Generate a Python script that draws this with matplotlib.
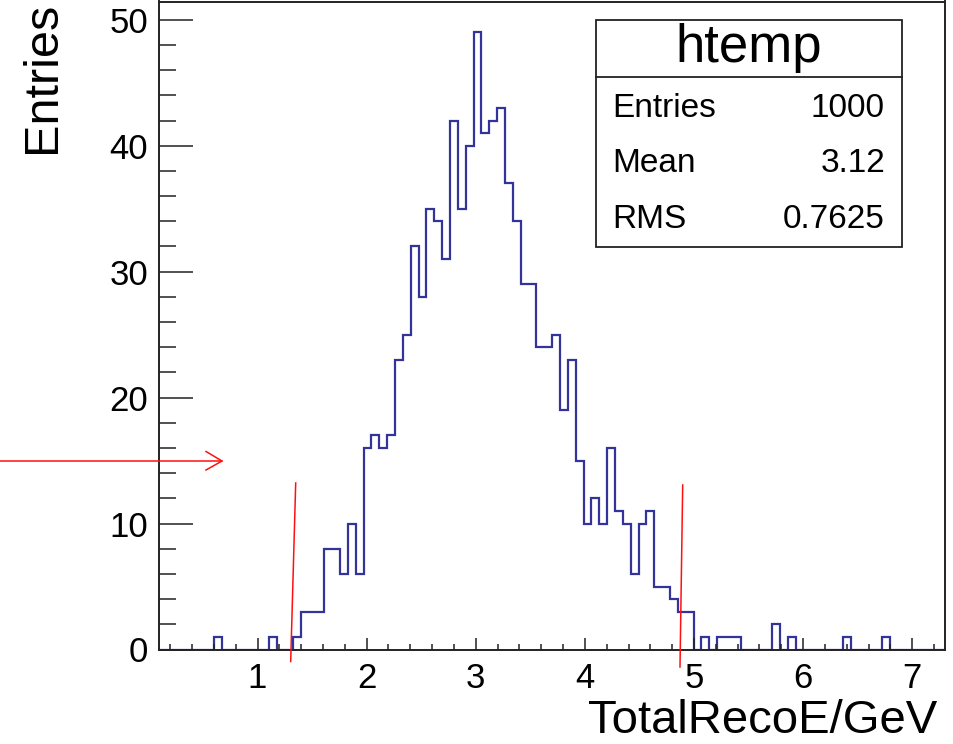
import numpy as np
import matplotlib
matplotlib.use('Agg')
import matplotlib.pyplot as plt
from matplotlib.lines import Line2D
from matplotlib.patches import Rectangle
from matplotlib.ticker import MultipleLocator

plt.rcParams['font.family'] = ['Liberation Sans', 'DejaVu Sans']

# histogram binning (ROOT htemp)
x_min, x_max, n_bins = 0.1, 7.3, 100
counts = [
    0, 0, 0, 0, 0, 0, 0, 1, 0, 0,
    0, 0, 0, 0, 1, 0, 0, 1, 3, 3,
    3, 8, 8, 6, 10, 6, 16, 17, 16, 17,
    23, 25, 32, 28, 35, 34, 31, 42, 35, 40,
    49, 41, 42, 43, 37, 34, 29, 29, 24, 24,
    25, 19, 23, 15, 10, 12, 10, 16, 11, 10,
    6, 10, 11, 5, 5, 4, 3, 3, 0, 1,
    0, 1, 1, 1, 0, 0, 0, 0, 2, 0,
    1, 0, 0, 0, 0, 0, 0, 1, 0, 0,
    0, 0, 1, 0, 0, 0, 0, 0, 0, 0,
]
stat_names = ['Entries', 'Mean', 'RMS']
stat_values = ['1000', '3.12', '0.7625']
hist_title = 'htemp'
x_title = 'TotalRecoE/GeV'
y_title = 'Entries'

W, H = 954, 744
fig = plt.figure(figsize=(W / 100, H / 100), dpi=100)
fig.patch.set_facecolor('white')


def fx(px):  # figure pixel -> fraction
    return px / W


def fy(py):  # figure pixel (from top) -> fraction
    return 1 - py / H


ax = fig.add_axes([fx(159.3), fy(649.5), fx(945) - fx(159.3), fy(1.5) - fy(649.5)])

edges = np.linspace(x_min, x_max, n_bins + 1)
ax.stairs(counts, edges, color='#333399', linewidth=1.6)

ax.set_xlim(x_min, x_max)
ax.set_ylim(0, 1.05 * max(counts))

ax.xaxis.set_major_locator(MultipleLocator(1))
ax.xaxis.set_minor_locator(MultipleLocator(0.2))
ax.yaxis.set_major_locator(MultipleLocator(10))
ax.yaxis.set_minor_locator(MultipleLocator(2))

frame_col = '#222222'
for s in ax.spines.values():
    s.set_linewidth(1.4)
    s.set_color(frame_col)

ax.tick_params(axis='x', which='major', direction='in', length=9, width=1.1,
               color=frame_col, labelsize=25, pad=9)
ax.tick_params(axis='x', which='minor', direction='in', length=4.3, width=1.1, color=frame_col)
ax.tick_params(axis='y', which='major', direction='in', length=24.5, width=1.1,
               color=frame_col, labelsize=25, pad=8)
ax.tick_params(axis='y', which='minor', direction='in', length=12, width=1.1, color=frame_col)
ax.set_xticks([1, 2, 3, 4, 5, 6, 7])

ax.set_xlabel(x_title, fontsize=34, loc='right')
ax.xaxis.set_label_coords(0.99, -0.077)
ax.set_ylabel(y_title, fontsize=35, loc='top')
ax.yaxis.set_label_coords(-0.12, 1.0)

# stats box
box_l, box_r, box_t, box_b, box_div = 596, 902, 20, 246.7, 76.7
fig.patches.append(Rectangle((fx(box_l), fy(box_b)), fx(box_r) - fx(box_l), fy(box_t) - fy(box_b),
                             transform=fig.transFigure, facecolor='white',
                             edgecolor=frame_col, linewidth=1.3, zorder=5))
fig.add_artist(Line2D([fx(box_l), fx(box_r)], [fy(box_div), fy(box_div)],
                      transform=fig.transFigure, color=frame_col, linewidth=1.3, zorder=6))
fig.text(fx((box_l + box_r) / 2), fy(61.7), hist_title, fontsize=38,
         ha='center', va='baseline', zorder=7)
for i, (nm, val) in enumerate(zip(stat_names, stat_values)):
    base = 116.7 + i * 55.8
    fig.text(fx(612), fy(base), nm, fontsize=24, ha='left', va='baseline', zorder=7)
    fig.text(fx(885), fy(base), val, fontsize=24, ha='right', va='baseline', zorder=7)

# red hand-drawn annotations
red = '#ff1010'
arrow_tip = (222, 461)
fig.add_artist(Line2D([fx(0), fx(arrow_tip[0])], [fy(461), fy(arrow_tip[1])],
                      transform=fig.transFigure, color=red, linewidth=1.1))
fig.add_artist(Line2D([fx(206), fx(arrow_tip[0]), fx(206)], [fy(451.5), fy(arrow_tip[1]), fy(470)],
                      transform=fig.transFigure, color=red, linewidth=1.1))
fig.add_artist(Line2D([fx(295.7), fx(290.7)], [fy(483), fy(661.5)],
                      transform=fig.transFigure, color=red, linewidth=1.1))
fig.add_artist(Line2D([fx(682.7), fx(680)], [fy(485), fy(667)],
                      transform=fig.transFigure, color=red, linewidth=1.1))

fig.savefig('out.png', dpi=100)
